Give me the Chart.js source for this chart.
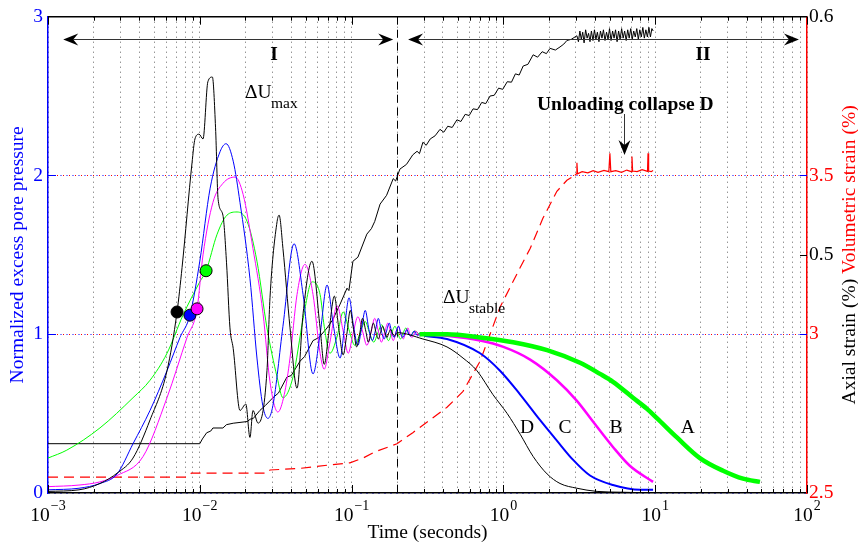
<!DOCTYPE html>
<html>
<head>
<meta charset="utf-8">
<script src="https://cdn.jsdelivr.net/npm/chart.js@4.4.0/dist/chart.umd.min.js"></script>
<style>
  html, body { margin: 0; padding: 0; background: #fff; }
</style>
</head>
<body>
<canvas id="pore-chart" width="858" height="547"></canvas>
<script>
// time axis, log scale
const xPowers = [-3, -2, -1, 0, 1, 2];
const xMinor = [1, 2, 3, 4, 5, 6, 7, 8, 9];
const poreTicks = [0, 1, 2, 3];
const volTicks = [2.5, 3, 3.5];
const volGrid = [3, 3.5];
const axialTicks = [0.5, 0.6];
const stageBoundary = 0.2; // seconds, end of stage I

// normalized excess pore pressure, [time (s), value]
const poreD = [[0.001,0.01],[0.0016,0.02],[0.0022,0.06],[0.0029,0.13],[0.00363,0.22],[0.0047,0.46],[0.00608,0.77],
  [0.00708,1.14],[0.00764,1.42],[0.00889,2.08],[0.00929,2.23],[0.00989,2.26],[0.0105,2.23],[0.0113,2.59],[0.0121,2.62],
  [0.0127,2.30],[0.0132,1.85],[0.0142,1.75],[0.0150,1.45],[0.0158,1.04],[0.0166,0.91],[0.0184,0.52],[0.0201,0.56],
  [0.0214,0.35],[0.0224,0.52],[0.0242,0.44],[0.0277,0.77],[0.0290,1.23],[0.0323,1.71],[0.0333,1.75],[0.0353,1.54],
  [0.0393,1.04],[0.0437,0.66],[0.0479,1.13],[0.0548,1.46],[0.0620,1.04],[0.0660,0.81],[0.0710,1.02],[0.0770,1.24],
  [0.0820,1.05],[0.0880,0.87],[0.0930,1.00],[0.0980,1.15],[0.1030,1.03],[0.1080,0.92],[0.1130,1.00],[0.1180,1.10],
  [0.1240,1.02],[0.1290,0.95],[0.1340,1.01],[0.1390,1.07],[0.1450,1.01],[0.1500,0.97],[0.1550,1.01],[0.1600,1.05],
  [0.1660,1.01],[0.1710,0.98],[0.1760,1.01],[0.1810,1.03],[0.1870,1.00],[0.1920,0.99],[0.1990,1.01],
  [0.295,0.97],[0.425,0.92],[0.542,0.85],[0.670,0.77],[0.853,0.62],[1.06,0.50],[1.29,0.37],[1.57,0.23],[1.94,0.12],
  [2.36,0.06],[3.05,0.03],[4.14,0.01],[6.0,0.005],[10,0.0]];

const poreC = [[0.001,0.02],[0.0016,0.03],[0.0022,0.06],[0.00285,0.12],[0.00363,0.31],[0.0047,0.52],[0.00608,0.77],
  [0.00741,0.98],[0.00861,1.12],[0.0100,1.46],[0.0117,1.92],[0.0136,2.15],[0.0149,2.20],[0.0166,2.09],[0.0184,1.83],
  [0.0214,1.35],[0.0238,0.85],[0.0260,0.55],[0.0281,0.47],[0.0303,0.55],[0.0353,1.05],[0.0418,1.57],[0.0479,1.25],
  [0.0557,0.75],[0.0620,1.00],[0.0689,1.31],[0.0760,1.05],[0.0840,0.85],[0.0900,1.05],[0.0962,1.23],[0.1030,1.05],
  [0.1100,0.93],[0.1160,1.03],[0.1230,1.15],[0.1300,1.03],[0.1370,0.96],[0.1440,1.03],[0.1500,1.10],[0.1570,1.02],
  [0.1640,0.97],[0.1700,1.02],[0.1770,1.07],[0.1840,1.01],[0.1910,0.98],[0.1970,1.02],[0.2040,1.05],[0.2110,1.00],
  [0.2180,0.98],[0.2250,1.01],[0.2310,1.03],[0.2380,1.00],[0.2450,0.99],[0.2580,1.02],[0.2720,0.99],[0.2850,1.01],
  [0.3000,0.99]];
const poreCTail = [[0.30,0.99],[0.425,0.97],[0.702,0.88],[0.95,0.77],[1.29,0.62],[1.74,0.46],[2.25,0.33],[2.87,0.21],
  [3.72,0.11],[5.27,0.05],[7.94,0.02],[9.68,0.02]];

const poreB = [[0.001,0.04],[0.0016,0.05],[0.0022,0.07],[0.00285,0.11],[0.00423,0.23],[0.00608,0.60],[0.00824,0.98],
  [0.00959,1.16],[0.0105,1.50],[0.0122,1.83],[0.0142,1.95],[0.0171,1.99],[0.0193,1.88],[0.0224,1.54],[0.0261,1.13],
  [0.0290,0.70],[0.0327,0.51],[0.0360,0.62],[0.0393,0.85],[0.0437,1.25],[0.0493,1.44],[0.0557,1.25],[0.0620,0.88],
  [0.0660,0.78],[0.0720,0.95],[0.0802,1.18],[0.0880,1.02],[0.0950,0.88],[0.1020,1.00],[0.1100,1.11],[0.1180,1.02],
  [0.1260,0.93],[0.1340,1.01],[0.1420,1.10],[0.1500,1.02],[0.1570,0.95],[0.1650,1.01],[0.1730,1.07],[0.1810,1.01],
  [0.1880,0.96],[0.1960,1.01],[0.2040,1.05],[0.2120,1.00],[0.2190,0.97],[0.2270,1.01],[0.2350,1.04],[0.2420,1.00],
  [0.2500,0.98],[0.2650,1.02],[0.2800,0.99],[0.3000,1.00]];
const poreBTail = [[0.30,1.00],[0.425,0.99],[0.702,0.96],[1.0,0.92],[1.50,0.84],[2.25,0.71],[3.05,0.58],[3.89,0.45],
  [5.27,0.29],[6.83,0.17],[9.68,0.07]];

const poreA = [[0.001,0.22],[0.00133,0.27],[0.0022,0.41],[0.00363,0.60],[0.0047,0.71],[0.00608,0.88],[0.00775,1.12],
  [0.0100,1.33],[0.0110,1.40],[0.0130,1.63],[0.0151,1.75],[0.0176,1.77],[0.0205,1.71],[0.0238,1.46],[0.0277,1.04],
  [0.0323,0.73],[0.0353,0.60],[0.0411,0.73],[0.0480,1.10],[0.0548,1.33],[0.0620,1.25],[0.0660,1.05],[0.0720,0.88],
  [0.0800,0.98],[0.0880,1.14],[0.0960,1.03],[0.1050,0.93],[0.1140,1.01],[0.1230,1.08],[0.1310,1.01],[0.1400,0.95],
  [0.1490,1.01],[0.1580,1.06],[0.1660,1.01],[0.1750,0.96],[0.1840,1.01],[0.1930,1.05],[0.2010,1.01],[0.2100,0.97],
  [0.2190,1.01],[0.2280,1.04],[0.2360,1.01],[0.2450,0.99],[0.2600,1.02],[0.2800,1.00]];
const poreATail = [[0.28,1.00],[0.425,1.00],[0.702,0.98],[1.16,0.95],[1.94,0.90],[3.20,0.82],[4.33,0.75],[5.27,0.70],
  [7.14,0.60],[8.83,0.53],[10.3,0.47],[13.9,0.35],[19.7,0.22],[28.0,0.14],[37.9,0.09],[49.0,0.07]];

// onset of liquefaction markers D, C, B, A
const onsetTimes = [0.00708, 0.00861, 0.00959, 0.0110];
const onsetValues = [1.14, 1.12, 1.16, 1.40];
const onsetColors = ['#000000', '#0000ff', '#ff00ff', '#00ff00'];

// axial strain (%), [time (s), value]
const axialStrain = [[0.001,0.4207],[0.0100,0.4207],[0.0104,0.4227],[0.0111,0.4253],[0.0118,0.4260],[0.0122,0.4273],
  [0.0142,0.4273],[0.0150,0.4287],[0.0166,0.4293],[0.0205,0.4300],[0.0215,0.4310],[0.0225,0.4313],[0.0249,0.4347],
  [0.0270,0.4367],[0.0303,0.4400],[0.0330,0.4420],[0.0375,0.4487],[0.0400,0.4493],[0.0457,0.4553],[0.0490,0.4573],
  [0.0557,0.4640],[0.0610,0.4653],[0.0689,0.4693],[0.0750,0.4727],[0.0840,0.4793],[0.0933,0.4860],[0.0960,0.4850],
  [0.1020,0.4973],[0.1100,0.4990],[0.1260,0.5087],[0.1350,0.5110],[0.1420,0.5140],[0.1540,0.5213],[0.1700,0.5250],
  [0.1880,0.5320],[0.1950,0.5310],[0.2080,0.5360],[0.2300,0.5380],[0.2530,0.5420],[0.2700,0.5435],[0.2800,0.5425],
  [0.2950,0.5473],[0.3100,0.5460],[0.3300,0.5487],[0.3550,0.5500],[0.3820,0.5527],[0.4050,0.5515],[0.4300,0.5540],
  [0.4600,0.5535],[0.4940,0.5567],[0.5250,0.5560],[0.5600,0.5590],[0.5950,0.5585],[0.6310,0.5613],[0.6750,0.5610],
  [0.7200,0.5640],[0.7650,0.5635],[0.8170,0.5667],[0.8700,0.5670],[0.9300,0.5700],[0.9900,0.5695],[1.06,0.5727],
  [1.13,0.5725],[1.20,0.5760],[1.27,0.5755],[1.35,0.5793],[1.45,0.5800],[1.57,0.5840],[1.68,0.5830],[1.80,0.5853],
  [1.92,0.5845],[2.03,0.5867],[2.20,0.5860],[2.36,0.5873],[2.50,0.5885],[2.62,0.5900],[2.80,0.5905],[3.05,0.5920],
  [3.12,0.5895],[3.19,0.5940],[3.26,0.5905],[3.33,0.5935],[3.40,0.5890],[3.48,0.5945],[3.56,0.5910],[3.64,0.5930],
  [3.72,0.5895],[3.80,0.5940],[3.89,0.5900],[3.98,0.5945],[4.07,0.5905],[4.16,0.5935],[4.26,0.5895],[4.36,0.5940],
  [4.46,0.5910],[4.56,0.5945],[4.67,0.5900],[4.78,0.5935],[4.89,0.5905],[5.00,0.5950],[5.12,0.5900],[5.24,0.5940],
  [5.36,0.5910],[5.48,0.5945],[5.61,0.5895],[5.74,0.5940],[5.87,0.5905],[6.01,0.5950],[6.15,0.5910],[6.29,0.5940],
  [6.44,0.5900],[6.59,0.5945],[6.74,0.5910],[6.90,0.5950],[7.06,0.5905],[7.22,0.5940],[7.39,0.5915],[7.56,0.5950],
  [7.74,0.5905],[7.92,0.5945],[8.10,0.5915],[8.29,0.5955],[8.48,0.5910],[8.68,0.5945],[8.88,0.5915],[9.09,0.5955],
  [9.30,0.5915],[9.51,0.5950],[9.70,0.5940]];

// volumetric strain (%), [time (s), value]
const volStrain = [[0.001,2.550],[0.0082,2.550],[0.0088,2.5625],[0.0277,2.5625],[0.0290,2.5725],[0.0457,2.5775],
  [0.0689,2.5875],[0.0975,2.595],[0.119,2.610],[0.143,2.630],[0.175,2.645],[0.199,2.655],[0.253,2.690],[0.328,2.730],
  [0.425,2.770],[0.542,2.820],[0.702,2.915],[0.817,3.000],[0.950,3.085],[1.10,3.145],[1.29,3.210],[1.50,3.270],
  [1.82,3.365],[2.25,3.450],[2.62,3.485],[2.96,3.500]];
const volStrainTop = [[2.96,3.500],[3.02,3.505],[3.05,3.540],[3.08,3.505],[3.3,3.512],[3.6,3.508],[3.9,3.515],
  [4.2,3.510],[4.6,3.516],[4.95,3.512],[5.03,3.570],[5.1,3.512],[5.5,3.515],[6.0,3.510],[6.5,3.517],[6.95,3.512],
  [7.03,3.560],[7.1,3.514],[7.6,3.512],[8.2,3.518],[8.9,3.513],[8.97,3.570],[9.05,3.514],[9.4,3.512],[9.68,3.516]];

const curveNames = ['D', 'C', 'B', 'A'];
const curveNameTimes = [1.43, 2.55, 5.52, 16.4];

const serif = "'Liberation Serif', 'Times New Roman', serif";
const volMin = 2.5, volMax = 4, axMin = 0.4, axMax = 0.6;
const axialAsVol = v => volMin + (v - axMin) / (axMax - axMin) * (volMax - volMin);

const xGridTicks = [];
xPowers.forEach(p => {
  xMinor.forEach(m => {
    const v = m * Math.pow(10, p);
    if (v <= 100.0001) xGridTicks.push(v);
  });
});

function arrowHead(ctx, x, y, dx, dy) {
  // (dx, dy) = direction of the tip
  const len = 15, back = 10, half = 6;
  const px = -dy, py = dx;
  ctx.beginPath();
  ctx.moveTo(x, y);
  ctx.lineTo(x - dx * len + px * half, y - dy * len + py * half);
  ctx.lineTo(x - dx * back, y - dy * back);
  ctx.lineTo(x - dx * len - px * half, y - dy * len - py * half);
  ctx.closePath();
  ctx.fill();
}

const decorPlugin = {
  id: 'decor',
  beforeDatasetsDraw(chart) {
    const { ctx, chartArea: a, scales: { x, yVol } } = chart;
    ctx.save();
    // red dotted grid of the volumetric axis, between the blue dots
    ctx.strokeStyle = '#ff0000';
    ctx.lineWidth = 1;
    ctx.setLineDash([1, 5]);
    ctx.lineDashOffset = -3;
    volGrid.forEach(v => {
      const py = Math.round(yVol.getPixelForValue(v)) + 0.5;
      ctx.beginPath();
      ctx.moveTo(a.left, py);
      ctx.lineTo(a.right, py);
      ctx.stroke();
    });
    // boundary between stage I and II
    const px = Math.round(x.getPixelForValue(stageBoundary)) + 0.5;
    ctx.strokeStyle = '#000';
    ctx.setLineDash([8, 5]);
    ctx.lineDashOffset = 0;
    ctx.beginPath();
    ctx.moveTo(px, a.top);
    ctx.lineTo(px, a.bottom);
    ctx.stroke();
    ctx.restore();
  },
  afterDraw(chart) {
    const { ctx, chartArea: a, scales: { x, y, yVol } } = chart;
    ctx.save();

    // top frame + inward ticks
    ctx.strokeStyle = '#000';
    ctx.lineWidth = 1.5;
    ctx.beginPath();
    ctx.moveTo(a.left, a.top);
    ctx.lineTo(a.right, a.top);
    ctx.stroke();
    ctx.lineWidth = 1;
    xGridTicks.forEach(v => {
      const px = Math.round(x.getPixelForValue(v)) + 0.5;
      const len = xPowers.some(p => Math.abs(Math.pow(10, p) - v) < 1e-9) ? 8 : 4;
      ctx.beginPath();
      ctx.moveTo(px, a.bottom); ctx.lineTo(px, a.bottom - len);
      ctx.moveTo(px, a.top); ctx.lineTo(px, a.top + len);
      ctx.stroke();
    });
    ctx.strokeStyle = '#0000ff';
    [1, 2].forEach(v => {
      const py = Math.round(y.getPixelForValue(v)) + 0.5;
      ctx.beginPath();
      ctx.moveTo(a.left, py); ctx.lineTo(a.left + 8, py);
      ctx.moveTo(a.right, py); ctx.lineTo(a.right - 7, py);
      ctx.stroke();
    });
    ctx.strokeStyle = '#000';
    const p05 = Math.round(yVol.getPixelForValue(axialAsVol(0.5))) + 0.5;
    ctx.beginPath();
    ctx.moveTo(a.right, p05); ctx.lineTo(a.right - 7, p05);
    ctx.stroke();

    // x tick labels 10^n
    ctx.fillStyle = '#000';
    ctx.textBaseline = 'alphabetic';
    xPowers.forEach(p => {
      const px = x.getPixelForValue(Math.pow(10, p));
      const exp = p < 0 ? '\u2212' + (-p) : String(p);
      ctx.font = `19.5px ${serif}`;
      const wb = ctx.measureText('10').width;
      ctx.font = `14px ${serif}`;
      const we = ctx.measureText(exp).width;
      const left = px - (wb + we + 1) / 2;
      ctx.font = `19.5px ${serif}`;
      ctx.fillText('10', left, a.bottom + 28);
      ctx.font = `14px ${serif}`;
      ctx.fillText(exp, left + wb + 1, a.bottom + 17);
    });

    // right axis title, two colours
    ctx.font = `19.5px ${serif}`;
    const t1 = 'Axial strain (%) ', t2 = 'Volumetric strain (%)';
    const w1 = ctx.measureText(t1).width, w2 = ctx.measureText(t2).width;
    ctx.translate(850, (a.top + a.bottom) / 2);
    ctx.rotate(-Math.PI / 2);
    ctx.textBaseline = 'middle';
    ctx.textAlign = 'left';
    ctx.fillStyle = '#000';
    ctx.fillText(t1, -(w1 + w2) / 2, 0);
    ctx.fillStyle = '#ff0000';
    ctx.fillText(t2, -(w1 + w2) / 2 + w1, 0);
    ctx.setTransform(1, 0, 0, 1, 0, 0);

    // stage arrows
    const ay = 39;
    const xI0 = x.getPixelForValue(0.00126), xI1 = x.getPixelForValue(0.188);
    const xII0 = x.getPixelForValue(0.2355), xII1 = x.getPixelForValue(88.5);
    ctx.strokeStyle = '#333';
    ctx.fillStyle = '#000';
    ctx.lineWidth = 1;
    ctx.beginPath();
    ctx.moveTo(xI0 + 10, ay + 0.5); ctx.lineTo(xI1 - 10, ay + 0.5);
    ctx.moveTo(xII0 + 10, ay + 0.5); ctx.lineTo(xII1 - 10, ay + 0.5);
    ctx.stroke();
    arrowHead(ctx, xI0, ay + 0.5, -1, 0);
    arrowHead(ctx, xI1, ay + 0.5, 1, 0);
    arrowHead(ctx, xII0, ay + 0.5, -1, 0);
    arrowHead(ctx, xII1, ay + 0.5, 1, 0);

    ctx.textAlign = 'center';
    ctx.textBaseline = 'alphabetic';
    ctx.font = `bold 19.5px ${serif}`;
    ctx.fillText('I', 274, 60);
    ctx.fillText('II', 703, 60);

    // unloading collapse
    ctx.textAlign = 'left';
    ctx.fillText('Unloading collapse D', 537, 110);
    const cx = Math.round(x.getPixelForValue(6.2)) + 0.5;
    ctx.beginPath();
    ctx.moveTo(cx, 114); ctx.lineTo(cx, 146);
    ctx.stroke();
    arrowHead(ctx, cx, 155, 0, 1);

    // ΔU labels
    ctx.font = `19.5px ${serif}`;
    ctx.fillText('\u0394U', 245, 98);
    ctx.font = `15.5px ${serif}`;
    ctx.fillText('max', 271, 108);
    ctx.font = `19.5px ${serif}`;
    ctx.fillText('\u0394U', 443, 303);
    ctx.font = `15.5px ${serif}`;
    ctx.fillText('stable', 469, 313);

    // curve names
    ctx.font = `19.5px ${serif}`;
    ctx.textAlign = 'center';
    ctx.textBaseline = 'middle';
    curveNames.forEach((n, i) => {
      ctx.fillText(n, x.getPixelForValue(curveNameTimes[i]), y.getPixelForValue(0.41));
    });

    ctx.restore();
  }
};

const line = (data, color, width, extra) => Object.assign({
  data, borderColor: color, borderWidth: width, pointRadius: 0, fill: false,
  cubicInterpolationMode: 'monotone', yAxisID: 'y'
}, extra || {});

const datasets = [
  {
    data: onsetTimes.map((t, i) => [t, onsetValues[i]]),
    showLine: false, pointRadius: 6, pointBackgroundColor: onsetColors,
    pointBorderColor: '#000', pointBorderWidth: 1, yAxisID: 'y'
  },
  line(poreATail, '#00ff00', 4.5),
  line(poreBTail, '#ff00ff', 2.5),
  line(poreCTail, '#0000ff', 2),
  line(poreD, '#000000', 1),
  line(poreC, '#0000ff', 1),
  line(poreB, '#ff00ff', 1),
  line(poreA, '#00ff00', 1),
  line(axialStrain, '#000000', 1, { cubicInterpolationMode: 'default', tension: 0, yAxisID: 'yAx' }),
  line(volStrainTop, '#ff0000', 1.2, { cubicInterpolationMode: 'default', tension: 0, yAxisID: 'yVol' }),
  line(volStrain, '#ff0000', 1.2, { cubicInterpolationMode: 'default', tension: 0, yAxisID: 'yVol', borderDash: [10, 6] })
];

const ctx = document.getElementById('pore-chart').getContext('2d');
new Chart(ctx, {
  type: 'line',
  data: { datasets },
  options: {
    responsive: false,
    animation: false,
    events: [],
    layout: { padding: { top: 14, left: 0, right: 0, bottom: 0 } },
    plugins: { legend: { display: false }, tooltip: { enabled: false } },
    scales: {
      x: {
        type: 'logarithmic',
        min: 0.001,
        max: 100,
        afterBuildTicks: s => { s.ticks = xGridTicks.map(v => ({ value: v })); },
        afterFit: s => { s.height = 54; },
        ticks: { display: false },
        grid: { color: 'rgba(0,0,0,0.6)', lineWidth: 1, drawTicks: false },
        border: { color: '#000', width: 1.5, dash: [1, 4] },
        title: {
          display: true, text: 'Time (seconds)', color: '#000',
          font: { family: serif, size: 19.5 }, padding: { top: 0, bottom: 2 }
        }
      },
      y: {
        position: 'left',
        min: 0,
        max: 3,
        afterBuildTicks: s => { s.ticks = poreTicks.map(v => ({ value: v })); },
        afterFit: s => { s.width = 48; },
        ticks: { color: '#0000ff', font: { family: serif, size: 19.5 }, padding: 5 },
        grid: { color: '#0000ff', lineWidth: 1, drawTicks: false },
        border: { color: '#0000ff', width: 1.5, dash: [1, 5] },
        title: {
          display: true, text: 'Normalized excess pore pressure', color: '#0000ff',
          font: { family: serif, size: 19.5 }, padding: { top: 6, bottom: 0 }
        }
      },
      yVol: {
        position: 'right',
        min: volMin,
        max: volMax,
        afterBuildTicks: s => {
          s.ticks = volTicks.map(v => ({ value: v })).concat(axialTicks.map(v => ({ value: axialAsVol(v), axial: v })));
        },
        afterFit: s => { s.width = 51; },
        ticks: {
          font: { family: serif, size: 19.5 },
          padding: 2,
          color: c => (c.tick && c.tick.axial !== undefined) ? '#000000' : '#ff0000',
          callback: function (value, index, ticks) {
            const t = ticks[index];
            return t.axial !== undefined ? t.axial.toFixed(1) : String(value);
          }
        },
        grid: { display: false, drawTicks: false },
        border: { color: '#ff0000', width: 1.5 }
      },
      yAx: { position: 'right', min: axMin, max: axMax, display: false }
    }
  },
  plugins: [decorPlugin]
});
</script>
</body>
</html>
